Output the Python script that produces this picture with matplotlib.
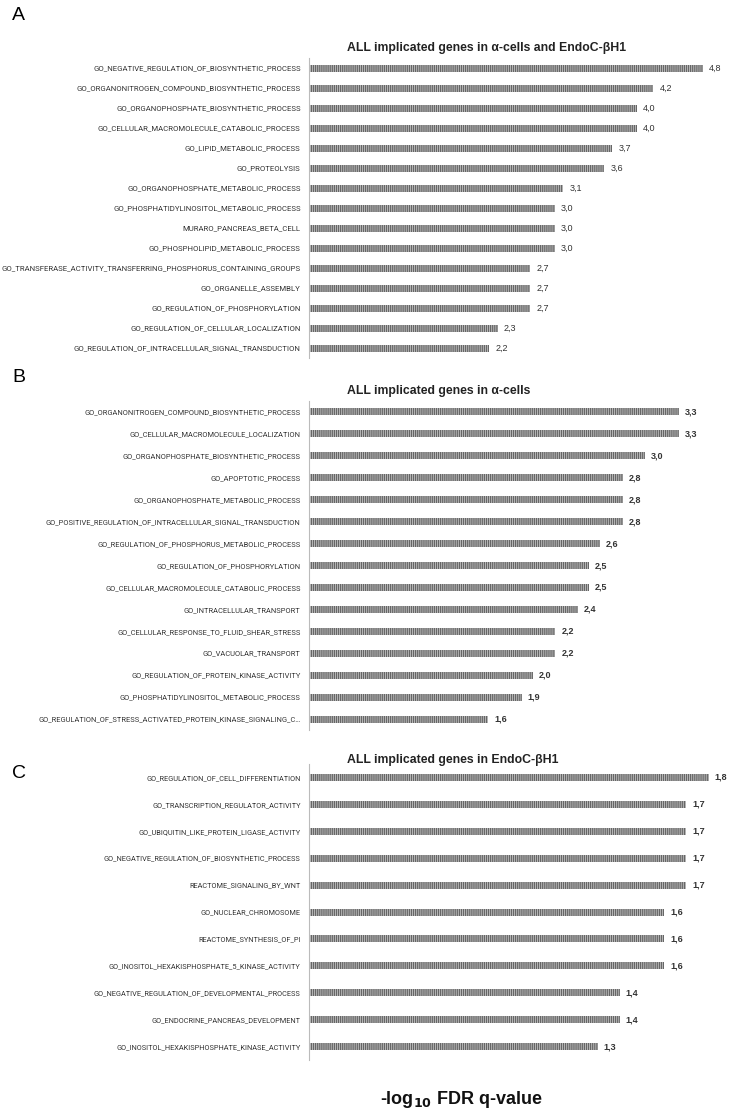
import numpy as np
import matplotlib.pyplot as plt

W, H = 731, 1112

# panel A
labels_a = ["GO_NEGATIVE_REGULATION_OF_BIOSYNTHETIC_PROCESS",
            "GO_ORGANONITROGEN_COMPOUND_BIOSYNTHETIC_PROCESS",
            "GO_ORGANOPHOSPHATE_BIOSYNTHETIC_PROCESS",
            "GO_CELLULAR_MACROMOLECULE_CATABOLIC_PROCESS",
            "GO_LIPID_METABOLIC_PROCESS",
            "GO_PROTEOLYSIS",
            "GO_ORGANOPHOSPHATE_METABOLIC_PROCESS",
            "GO_PHOSPHATIDYLINOSITOL_METABOLIC_PROCESS",
            "MURARO_PANCREAS_BETA_CELL",
            "GO_PHOSPHOLIPID_METABOLIC_PROCESS",
            "GO_TRANSFERASE_ACTIVITY_TRANSFERRING_PHOSPHORUS_CONTAINING_GROUPS",
            "GO_ORGANELLE_ASSEMBLY",
            "GO_REGULATION_OF_PHOSPHORYLATION",
            "GO_REGULATION_OF_CELLULAR_LOCALIZATION",
            "GO_REGULATION_OF_INTRACELLULAR_SIGNAL_TRANSDUCTION"]
values_a = [4.8, 4.2, 4.0, 4.0, 3.7, 3.6, 3.1, 3.0, 3.0, 3.0, 2.7, 2.7, 2.7, 2.3, 2.2]

# panel B
labels_b = ["GO_ORGANONITROGEN_COMPOUND_BIOSYNTHETIC_PROCESS",
            "GO_CELLULAR_MACROMOLECULE_LOCALIZATION",
            "GO_ORGANOPHOSPHATE_BIOSYNTHETIC_PROCESS",
            "GO_APOPTOTIC_PROCESS",
            "GO_ORGANOPHOSPHATE_METABOLIC_PROCESS",
            "GO_POSITIVE_REGULATION_OF_INTRACELLULAR_SIGNAL_TRANSDUCTION",
            "GO_REGULATION_OF_PHOSPHORUS_METABOLIC_PROCESS",
            "GO_REGULATION_OF_PHOSPHORYLATION",
            "GO_CELLULAR_MACROMOLECULE_CATABOLIC_PROCESS",
            "GO_INTRACELLULAR_TRANSPORT",
            "GO_CELLULAR_RESPONSE_TO_FLUID_SHEAR_STRESS",
            "GO_VACUOLAR_TRANSPORT",
            "GO_REGULATION_OF_PROTEIN_KINASE_ACTIVITY",
            "GO_PHOSPHATIDYLINOSITOL_METABOLIC_PROCESS",
            "GO_REGULATION_OF_STRESS_ACTIVATED_PROTEIN_KINASE_SIGNALING_C\u2026"]
values_b = [3.3, 3.3, 3.0, 2.8, 2.8, 2.8, 2.6, 2.5, 2.5, 2.4, 2.2, 2.2, 2.0, 1.9, 1.6]

# panel C
labels_c = ["GO_REGULATION_OF_CELL_DIFFERENTIATION",
            "GO_TRANSCRIPTION_REGULATOR_ACTIVITY",
            "GO_UBIQUITIN_LIKE_PROTEIN_LIGASE_ACTIVITY",
            "GO_NEGATIVE_REGULATION_OF_BIOSYNTHETIC_PROCESS",
            "REACTOME_SIGNALING_BY_WNT",
            "GO_NUCLEAR_CHROMOSOME",
            "REACTOME_SYNTHESIS_OF_PI",
            "GO_INOSITOL_HEXAKISPHOSPHATE_5_KINASE_ACTIVITY",
            "GO_NEGATIVE_REGULATION_OF_DEVELOPMENTAL_PROCESS",
            "GO_ENDOCRINE_PANCREAS_DEVELOPMENT",
            "GO_INOSITOL_HEXAKISPHOSPHATE_KINASE_ACTIVITY"]
values_c = [1.8, 1.7, 1.7, 1.7, 1.7, 1.6, 1.6, 1.6, 1.4, 1.4, 1.3]

titles = ["ALL implicated genes in \u03b1-cells and EndoC-\u03b2H1",
          "ALL implicated genes in \u03b1-cells",
          "ALL implicated genes in EndoC-\u03b2H1"]

plt.rcParams['font.family'] = ['Liberation Sans', 'DejaVu Sans']
plt.rcParams['hatch.linewidth'] = 0.9
label_font = ['Roboto', 'DejaVu Sans']

fig = plt.figure(figsize=(W / 100, H / 100), dpi=100)


def px_axes(x0, y0, x1, y1):
    return fig.add_axes([x0 / W, 1 - y1 / H, (x1 - x0) / W, (y1 - y0) / H])


def panel(top, bottom, labels, values, per_unit, lab_size, val_bold, title, title_y):
    ax = px_axes(309, top, 720, bottom)
    n = len(values)
    y = np.arange(n)
    row = (bottom - top) / n
    ax.barh(y, values, height=7 / row, color='#c4c4c4', edgecolor='#666666',
            linewidth=0, hatch='|' * 8)
    ax.set_ylim(n - 0.5, -0.5)
    ax.set_xlim(0, 411 / per_unit)
    ax.set_yticks(y)
    ax.set_yticklabels(labels, fontsize=lab_size, color='#333333', family=label_font)
    ax.tick_params(axis='y', length=0, pad=6)
    ax.set_xticks([])
    for s in ['top', 'right', 'bottom']:
        ax.spines[s].set_visible(False)
    ax.spines['left'].set_color('#bbbbbb')
    ax.spines['left'].set_linewidth(0.8)
    for yi, v in zip(y, values):
        ax.text(v + 6 / per_unit, yi, f"{v:.1f}".replace('.', ','), va='center', ha='left',
                fontsize=6.5, color='#333333',
                fontweight='bold' if val_bold else 'normal', clip_on=False)
    fig.text(347 / W, 1 - title_y / H, title, ha='left', va='center',
             fontsize=8.8, fontweight='bold', color='#222222')
    return ax


panel(58, 358, labels_a, values_a, 82, 5.55, False, titles[0], 48)
panel(401, 730, labels_b, values_b, 112, 5.45, True, titles[1], 391)
panel(764, 1060, labels_c, values_c, 222, 5.3, True, titles[2], 760)

for letter, yp in zip("ABC", [16, 378, 774]):
    fig.text(12 / W, 1 - yp / H, letter, fontsize=14, ha='left', va='center')

fig.text(461 / W, 1 - 1099 / H, r"-log$_{\mathbf{10}}$ FDR q-value", ha='center', va='center',
         fontsize=13, fontweight='bold', color='#111111')

fig.savefig("out.png", dpi=100)
